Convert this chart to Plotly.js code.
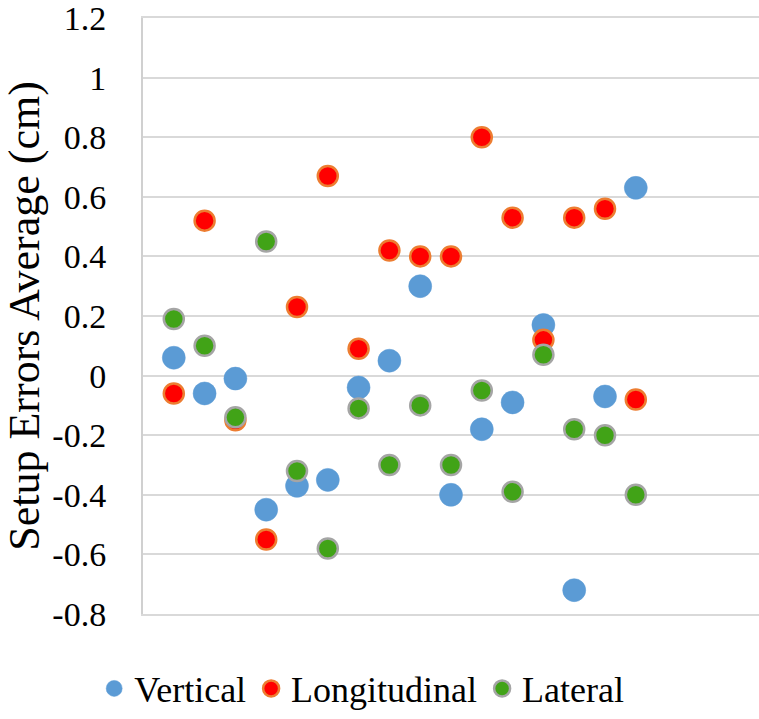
<!DOCTYPE html>
<html>
<head>
<meta charset="utf-8">
<script src="https://cdn.plot.ly/plotly-3.0.1.min.js"></script>
<style>html,body{margin:0;padding:0;background:#fff;}#chart{width:759px;height:719px;}</style>
</head>
<body>
<div id="chart"></div>
<script>
const patients = [1,2,3,4,5,6,7,8,9,10,11,12,13,14,15,16];
const vertical = [0.06,-0.06,-0.01,-0.45,-0.37,-0.35,-0.04,0.05,0.30,-0.40,-0.18,-0.09,0.17,-0.72,-0.07,0.63];
const longitudinal = [-0.06,0.52,-0.15,-0.55,0.23,0.67,0.09,0.42,0.40,0.40,0.80,0.53,0.12,0.53,0.56,-0.08];
const lateral = [0.19,0.10,-0.14,0.45,-0.32,-0.58,-0.11,-0.30,-0.10,-0.30,-0.05,-0.39,0.07,-0.18,-0.20,-0.40];
const yTickVals = [-0.8,-0.6,-0.4,-0.2,0,0.2,0.4,0.6,0.8,1,1.2];
const yTickText = ["-0.8","-0.6","-0.4","-0.2","0","0.2","0.4","0.6","0.8","1","1.2"];

const FONT = "Times New Roman, Liberation Serif, DejaVu Serif, serif";
const traces = [
  {x: patients, y: vertical, name: "Vertical", type: "scatter", mode: "markers",
   marker: {size: 23, color: "#5B9BD5", line: {width: 0.5, color: "#5B9BD5"}}},
  {x: patients, y: longitudinal, name: "Longitudinal", type: "scatter", mode: "markers",
   marker: {size: 20, color: "#FF0000", line: {width: 2.5, color: "#ED7D31"}}},
  {x: patients, y: lateral, name: "Lateral", type: "scatter", mode: "markers",
   marker: {size: 20, color: "#41A317", line: {width: 2.5, color: "#A5A5A5"}}}
];
const layout = {
  width: 759, height: 719,
  margin: {l: 143, r: 0, t: 18, b: 103},
  paper_bgcolor: "#fff", plot_bgcolor: "#fff",
  font: {family: FONT, color: "#000"},
  showlegend: true,
  legend: {orientation: "h", x: 0.355, xanchor: "center", y: -0.125, yanchor: "middle",
           font: {family: FONT, size: 36, color: "#000"}, itemsizing: "trace", tracegroupgap: 0},
  xaxis: {range: [0, 20], showticklabels: false, showgrid: false, zeroline: false,
          showline: true, mirror: true, linecolor: "#D9D9D9", linewidth: 2, ticks: ""},
  yaxis: {range: [-0.8, 1.2], tickvals: yTickVals, ticktext: yTickText,
          showgrid: true, gridcolor: "#D9D9D9", gridwidth: 2, zeroline: false,
          showline: true, linecolor: "#D0D0D0", linewidth: 2, ticks: "",
          ticklabelstandoff: 28, ticklabeloverflow: "allow",
          tickfont: {family: FONT, size: 34, color: "#000"},
          title: {text: "Setup Errors Average (cm)", standoff: 6,
                  font: {family: FONT, size: 44, color: "#000"}}}
};
Plotly.newPlot("chart", traces, layout, {staticPlot: true, displayModeBar: false});
</script>
</body>
</html>
